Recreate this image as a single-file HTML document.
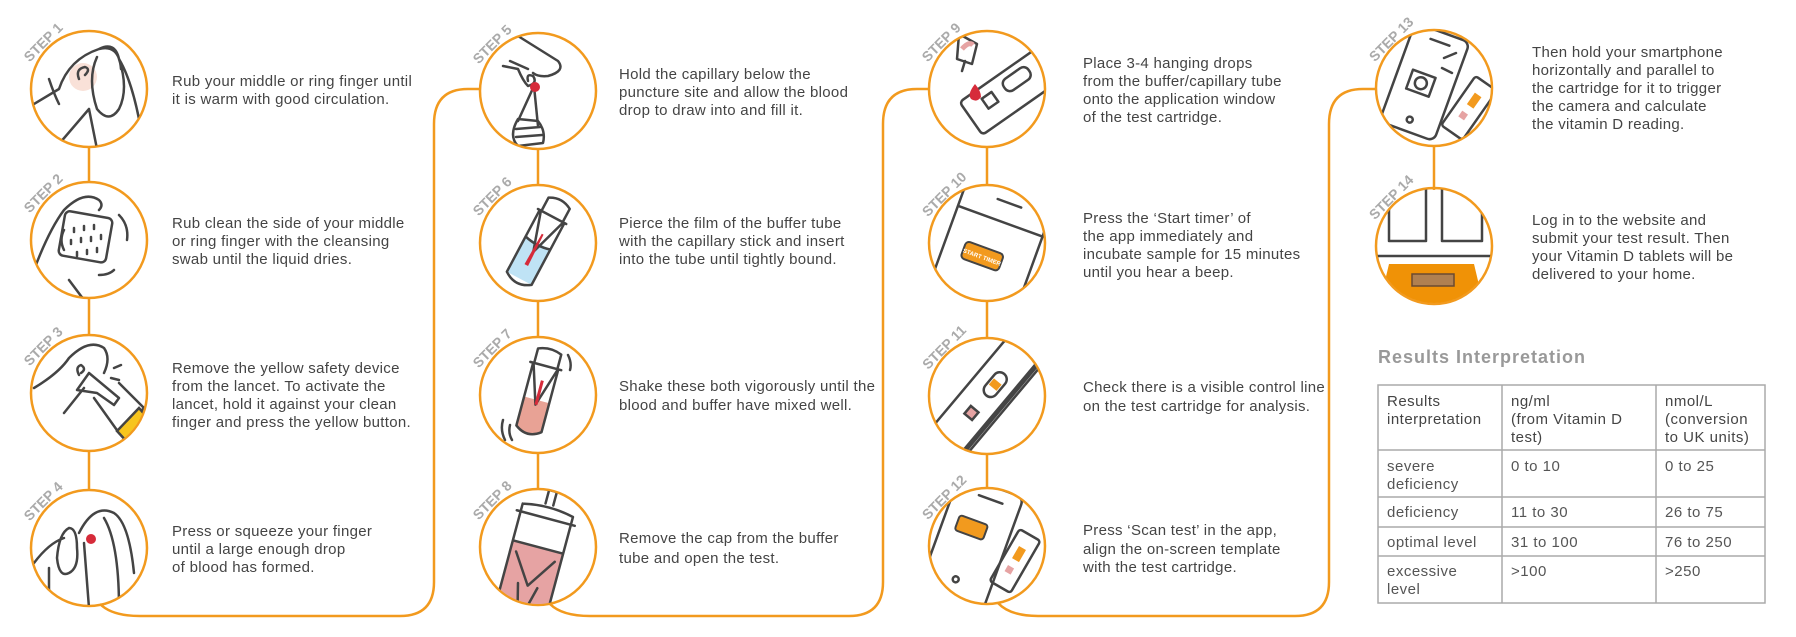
<!DOCTYPE html>
<html><head><meta charset="utf-8"><style>
html,body{margin:0;padding:0;background:#fff;width:1796px;height:637px;overflow:hidden}
svg{display:block}
.t{font-family:"Liberation Sans",Arial,sans-serif;font-size:15px;letter-spacing:0.3px;fill:#444}
.st{font-family:"Liberation Sans",Arial,sans-serif;font-size:14px;font-weight:bold;fill:#aaa}
.ln{fill:none;stroke:#F29A1E;stroke-width:2.5}
.ic{fill:none;stroke:#444;stroke-width:2.5;stroke-linecap:round;stroke-linejoin:round}
.tb{font-family:"Liberation Sans",Arial,sans-serif;font-size:15px;letter-spacing:0.5px;fill:#555}
</style></head><body>
<svg width="1796" height="637" viewBox="0 0 1796 637" xmlns="http://www.w3.org/2000/svg">
<defs><clipPath id="c"><circle cx="0" cy="0" r="57"/></clipPath></defs>

<g class="ln">
<path d="M89 147 V182 M89 298 V335 M89 451 V490"/>
<path d="M100 604 Q112 616 140 616 H400 Q434 616 434 582 V124 Q434 89 468 89 H481"/>
<path d="M538 149 V185 M538 301 V337 M538 453 V489"/>
<path d="M550 604 Q562 616 590 616 H849 Q883 616 883 582 V124 Q883 89 917 89 H930"/>
<path d="M987 147 V185 M987 301 V338 M987 454 V488"/>
<path d="M998 603 Q1010 616 1038 616 H1295 Q1329 616 1329 582 V124 Q1329 89 1363 89 H1377"/>
<path d="M1434 146 V190"/>
</g>

<g transform="translate(89,89)"><circle r="58" fill="#fff" class="ln"/><g clip-path="url(#c)">
<circle cx="-6" cy="-12" r="14" fill="#f7d4c8" opacity=".7"/>
<path class="ic" d="M-60 18 L-30 0 Q-20 -30 10 -40 Q30 -45 32 -20 M-40 -10 Q-35 5 -30 15 M-10 -10 Q-14 -20 -4 -22 Q2 -20 -4 -14 M8 -32 Q-2 -10 8 20 Q20 35 30 20 Q40 0 30 -30 Q26 -48 10 -40 M30 -30 Q42 -10 50 30 M-30 55 L0 20 M0 20 L8 60"/></g></g>

<g transform="translate(89,240)"><circle r="58" fill="#fff" class="ln"/><g clip-path="url(#c)">
<path class="ic" d="M-55 30 Q-40 -10 -25 -30 Q-5 -50 10 -40 Q15 -35 10 -30 M-25 -10 Q-30 0 -25 10 M-20 40 L-5 60"/>
<rect x="-28" y="-25" width="48" height="45" rx="5" fill="#fdf6ec" class="ic" transform="rotate(10)"/>
<path class="ic" d="M-15 -12v4M-5 -14v4M5 -15v4M-18 0v4M-8 -2v4M2 -3v4M12 -5v4M-12 12v4M-2 10v4M8 8v4M30 -25Q40 -15 38 0M25 30Q20 35 10 35"/></g></g>

<g transform="translate(89,393)"><circle r="58" fill="#fff" class="ln"/><g clip-path="url(#c)">
<path class="ic" d="M-55 -5 Q-30 -20 -20 -35 Q0 -55 15 -45 Q22 -35 15 -20 M-10 -18 Q-14 -26 -8 -28 Q-2 -24 -8 -20 M-25 20 L-5 -5 M-12 -3 L0 -20 L30 5 L25 12 L8 0 Z M25 -25 L32 -28 M22 -15 L30 -13 M5 5 L30 40 L55 15 L30 -10"/>
<path d="M28 38 L50 62 L72 40 L50 15 Z" fill="#F7C51E" stroke="#444" stroke-width="2.5"/></g></g>

<g transform="translate(89,548)"><circle r="58" fill="#fff" class="ln"/><g clip-path="url(#c)">
<path class="ic" d="M-55 15 Q-40 -5 -25 -10 M-20 -20 Q-30 -15 -32 10 Q-30 30 -20 25 Q-10 20 -12 0 Q-12 -20 -20 -20 M-10 -15 Q5 -45 25 -35 Q40 -25 45 25 M15 -30 Q30 -5 30 60 M-5 -5 L0 60 M-40 20 L-40 60"/>
<circle cx="2" cy="-9" r="5" fill="#d62b3a"/></g></g>

<g transform="translate(538,91)"><circle r="58" fill="#fff" class="ln"/><g clip-path="url(#c)">
<path class="ic" d="M-20 -55 L20 -30 Q28 -20 10 -15 Q0 -14 -5 -18 M-35 -25 L-20 -22 Q-15 -10 -10 -5 Q0 -8 -5 -15 Q-12 -18 -10 -10 M-10 -22 L-28 -30 M-4 -5 L-20 30 M-4 -5 L0 35 M-20 28 Q-30 45 -20 55 L5 52 Q8 40 0 30 Z M-22 38 L2 36 M-22 46 L4 44"/>
<circle cx="-3" cy="-4" r="5" fill="#d62b3a"/></g></g>

<g transform="translate(538,243)"><circle r="58" fill="#fff" class="ln"/><g clip-path="url(#c)">
<g transform="rotate(28)">
<rect x="-14" y="0" width="28" height="40" fill="#bfe3f5"/>
<path class="ic" d="M-14 -30 V40 Q0 50 14 40 V-30 M-16 -30 H16 M-12 -30 V-45 Q0 -52 12 -45 V-30 M-12 -28 L0 10 L12 -28 M-14 0 Q0 4 14 0"/>
<path d="M-1 -10 L1 -10 L2 25 L-2 25 Z" fill="#d62b3a"/></g></g></g>

<g transform="translate(538,395)"><circle r="58" fill="#fff" class="ln"/><g clip-path="url(#c)">
<g transform="rotate(15)">
<path d="M-13 5 L13 5 V35 Q0 45 -13 35 Z" fill="#e8a295"/>
<path class="ic" d="M-13 -30 V35 Q0 45 13 35 V-30 M-16 -30 H16 M-12 -30 V-45 Q0 -50 12 -45 V-30 M-12 -28 L0 10 L12 -28"/>
<path d="M-1 -15 L2 -15 L2 10 L-1 10 Z" fill="#d62b3a"/></g>
<path class="ic" d="M-35 25 Q-38 35 -33 45 M-28 30 Q-30 38 -26 45 M30 -40 Q34 -32 32 -25"/></g></g>

<g transform="translate(538,547)"><circle r="58" fill="#fff" class="ln"/><g clip-path="url(#c)">
<g transform="rotate(15)">
<path d="M-26 0 H26 V60 H-26 Z" fill="#e6a3a3"/>
<path class="ic" d="M-26 -30 V60 M26 -30 V60 M-30 -30 H30 M-26 -38 Q0 -44 26 -38 V-30 M-26 -38 V-30 M-4 -44 V-58 H4 V-44 M-26 0 H26 M-20 10 L0 40 L20 10 M-10 40 L-5 60 M10 40 L5 60"/></g></g></g>

<g transform="translate(987,89)"><circle r="58" fill="#fff" class="ln"/><g clip-path="url(#c)">
<g transform="rotate(-35)">
<rect x="-30" y="-5" width="95" height="40" rx="4" fill="#fff" class="ic"/>
<rect x="-10" y="5" width="12" height="12" class="ic"/><rect x="15" y="2" width="30" height="14" rx="6" class="ic"/></g>
<path class="ic" d="M-28 -55 L-10 -45 L-15 -25 L-30 -30 Z M-22 -28 L-25 -18"/>
<path d="M-25 -40 Q-18 -48 -14 -44" stroke="#e6a3a3" stroke-width="5" fill="none"/>
<path d="M-12 -5 Q-20 5 -16 10 Q-10 14 -6 8 Q-6 2 -12 -5 Z" fill="#d62b3a"/></g></g>

<g transform="translate(987,243)"><circle r="58" fill="#fff" class="ln"/><g clip-path="url(#c)">
<g transform="rotate(20)">
<path class="ic" d="M-40 70 V-50 Q-40 -60 -30 -60 H40 Q50 -60 50 -50 V70 M-40 -25 H50 M-5 -45 H20"/>
<rect x="-20" y="5" width="40" height="18" rx="4" fill="#F29A1E" stroke="#444" stroke-width="2"/>
<text x="0" y="17" text-anchor="middle" font-family="Liberation Sans,sans-serif" font-size="6" font-weight="bold" fill="#fff">START TIMER</text></g></g></g>

<g transform="translate(987,396)"><circle r="58" fill="#fff" class="ln"/><g clip-path="url(#c)">
<g transform="rotate(-50)">
<rect x="-70" y="-22" width="140" height="44" rx="4" fill="#fff" class="ic"/>
<path d="M-70 18 H70" stroke="#444" stroke-width="5"/>
<rect x="-28" y="-6" width="10" height="10" fill="#e6a3a3" stroke="#444" stroke-width="2.5"/>
<rect x="0" y="-8" width="28" height="14" rx="7" fill="#fff" class="ic"/><rect x="10" y="-6" width="8" height="10" fill="#F29A1E"/></g></g></g>

<g transform="translate(987,546)"><circle r="58" fill="#fff" class="ln"/><g clip-path="url(#c)">
<g transform="rotate(20)">
<path class="ic" d="M-50 55 V-50 Q-50 -58 -42 -58 H10 Q18 -58 18 -50 V55 M-25 -45 H0"/><circle cx="-18" cy="42" r="3" class="ic"/>
<rect x="-36" y="-20" width="30" height="16" rx="3" fill="#F29A1E" stroke="#444" stroke-width="2"/></g>
<g transform="rotate(30 28 15)"><rect x="16" y="-15" width="24" height="60" rx="3" fill="#fff" class="ic"/><rect x="24" y="0" width="8" height="14" fill="#F29A1E"/><rect x="24" y="22" width="7" height="7" fill="#e6a3a3"/></g></g></g>

<g transform="translate(1434,88)"><circle r="58" fill="#fff" class="ln"/><g clip-path="url(#c)">
<g transform="rotate(20)">
<rect x="-40" y="-55" width="58" height="105" rx="7" fill="#fff" class="ic"/>
<path class="ic" d="M-20 -45 H0 M-22 -10 H-2 V10 H-26 V-10 Z"/><circle cx="-14" cy="0" r="6" class="ic"/><circle cx="-12" cy="38" r="3" class="ic"/></g>
<g transform="rotate(35 35 20)"><rect x="22" y="-10" width="26" height="60" rx="3" fill="#fff" class="ic"/><rect x="31" y="4" width="8" height="14" fill="#F29A1E"/><rect x="31" y="26" width="7" height="7" fill="#e6a3a3"/></g>
<path class="ic" d="M10 -30 L22 -35 M8 -20 L18 -15"/></g></g>

<g transform="translate(1434,246)"><circle r="58" fill="#fff" class="ln"/><g clip-path="url(#c)">
<path class="ic" d="M-45 -60 V-5 H-8 V-60 M8 -60 V-5 H48 V-60 M-60 10 H60"/>
<path d="M-45 18 H40 L50 60 H-55 Z" fill="#F09206"/>
<rect x="-22" y="28" width="42" height="12" fill="#b08050" stroke="#6a4a30" stroke-width="1.5"/></g></g>

<g class="st">
<text transform="translate(44,43) rotate(-45)" text-anchor="middle" dominant-baseline="middle">STEP 1</text>
<text transform="translate(44,194) rotate(-45)" text-anchor="middle" dominant-baseline="middle">STEP 2</text>
<text transform="translate(44,347) rotate(-45)" text-anchor="middle" dominant-baseline="middle">STEP 3</text>
<text transform="translate(44,502) rotate(-45)" text-anchor="middle" dominant-baseline="middle">STEP 4</text>
<text transform="translate(493,45) rotate(-45)" text-anchor="middle" dominant-baseline="middle">STEP 5</text>
<text transform="translate(493,197) rotate(-45)" text-anchor="middle" dominant-baseline="middle">STEP 6</text>
<text transform="translate(493,349) rotate(-45)" text-anchor="middle" dominant-baseline="middle">STEP 7</text>
<text transform="translate(493,501) rotate(-45)" text-anchor="middle" dominant-baseline="middle">STEP 8</text>
<text transform="translate(942,43) rotate(-45)" text-anchor="middle" dominant-baseline="middle">STEP 9</text>
<text transform="translate(945,195) rotate(-45)" text-anchor="middle" dominant-baseline="middle">STEP 10</text>
<text transform="translate(945,348) rotate(-45)" text-anchor="middle" dominant-baseline="middle">STEP 11</text>
<text transform="translate(945,498) rotate(-45)" text-anchor="middle" dominant-baseline="middle">STEP 12</text>
<text transform="translate(1392,40) rotate(-45)" text-anchor="middle" dominant-baseline="middle">STEP 13</text>
<text transform="translate(1392,198) rotate(-45)" text-anchor="middle" dominant-baseline="middle">STEP 14</text>
</g>

<g class="t">
<text x="172" y="86">Rub your middle or ring finger until</text>
<text x="172" y="104">it is warm with good circulation.</text>
<text x="172" y="228">Rub clean the side of your middle</text>
<text x="172" y="246">or ring finger with the cleansing</text>
<text x="172" y="264">swab until the liquid dries.</text>
<text x="172" y="373">Remove the yellow safety device</text>
<text x="172" y="391">from the lancet. To activate the</text>
<text x="172" y="409">lancet, hold it against your clean</text>
<text x="172" y="427">finger and press the yellow button.</text>
<text x="172" y="536">Press or squeeze your finger</text>
<text x="172" y="554">until a large enough drop</text>
<text x="172" y="572">of blood has formed.</text>

<text x="619" y="79">Hold the capillary below the</text>
<text x="619" y="97">puncture site and allow the blood</text>
<text x="619" y="115">drop to draw into and fill it.</text>
<text x="619" y="228">Pierce the film of the buffer tube</text>
<text x="619" y="246">with the capillary stick and insert</text>
<text x="619" y="264">into the tube until tightly bound.</text>
<text x="619" y="391">Shake these both vigorously until the</text>
<text x="619" y="410">blood and buffer have mixed well.</text>
<text x="619" y="543">Remove the cap from the buffer</text>
<text x="619" y="563">tube and open the test.</text>

<text x="1083" y="68">Place 3-4 hanging drops</text>
<text x="1083" y="86">from the buffer/capillary tube</text>
<text x="1083" y="104">onto the application window</text>
<text x="1083" y="122">of the test cartridge.</text>
<text x="1083" y="223">Press the ‘Start timer’ of</text>
<text x="1083" y="241">the app immediately and</text>
<text x="1083" y="259">incubate sample for 15 minutes</text>
<text x="1083" y="277">until you hear a beep.</text>
<text x="1083" y="392">Check there is a visible control line</text>
<text x="1083" y="411">on the test cartridge for analysis.</text>
<text x="1083" y="535">Press ‘Scan test’ in the app,</text>
<text x="1083" y="554">align the on-screen template</text>
<text x="1083" y="572">with the test cartridge.</text>

<text x="1532" y="57">Then hold your smartphone</text>
<text x="1532" y="75">horizontally and parallel to</text>
<text x="1532" y="93">the cartridge for it to trigger</text>
<text x="1532" y="111">the camera and calculate</text>
<text x="1532" y="129">the vitamin D reading.</text>
<text x="1532" y="225">Log in to the website and</text>
<text x="1532" y="243">submit your test result. Then</text>
<text x="1532" y="261">your Vitamin D tablets will be</text>
<text x="1532" y="279">delivered to your home.</text>
</g>

<text x="1378" y="363" font-family="Liberation Sans,sans-serif" font-size="18" letter-spacing="1" font-weight="bold" fill="#999">Results Interpretation</text>
<g stroke="#aaa" stroke-width="1.5" fill="none">
<rect x="1378" y="385" width="387" height="218"/>
<path d="M1502 385 V603 M1656 385 V603 M1378 450 H1765 M1378 497 H1765 M1378 527 H1765 M1378 556 H1765"/>
</g>
<g class="tb">
<text x="1387" y="406" fill="#444">Results</text>
<text x="1387" y="424" fill="#444">interpretation</text>
<text x="1511" y="406" fill="#444">ng/ml</text>
<text x="1511" y="424" fill="#444">(from Vitamin D</text>
<text x="1511" y="442" fill="#444">test)</text>
<text x="1665" y="406" fill="#444">nmol/L</text>
<text x="1665" y="424" fill="#444">(conversion</text>
<text x="1665" y="442" fill="#444">to UK units)</text>
<text x="1387" y="471">severe</text><text x="1387" y="489">deficiency</text>
<text x="1511" y="471">0 to 10</text><text x="1665" y="471">0 to 25</text>
<text x="1387" y="517">deficiency</text><text x="1511" y="517">11 to 30</text><text x="1665" y="517">26 to 75</text>
<text x="1387" y="547">optimal level</text><text x="1511" y="547">31 to 100</text><text x="1665" y="547">76 to 250</text>
<text x="1387" y="576">excessive</text><text x="1387" y="594">level</text>
<text x="1511" y="576">&gt;100</text><text x="1665" y="576">&gt;250</text>
</g>
</svg>
</body></html>
